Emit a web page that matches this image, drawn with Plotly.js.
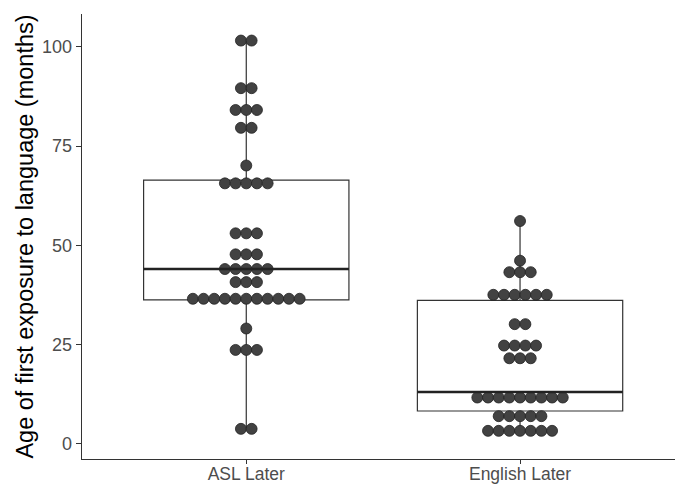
<!DOCTYPE html>
<html>
<head>
<meta charset="utf-8">
<script src="https://cdn.plot.ly/plotly-3.0.1.min.js"></script>
<style>html,body{margin:0;padding:0;background:#fff;overflow:hidden}#chart{width:675px;height:485px}</style>
</head>
<body>
<div id="chart"></div>
<script>
// ---- data ----
const categories = ["ASL Later", "English Later"];
const aslValues = [101.6,101.6, 89.6,89.6, 84.1,84.1,84.1, 79.6,79.6, 70.1,
  65.6,65.6,65.6,65.6,65.6, 53.0,53.0,53.0, 47.7,47.7,47.7, 44.0,44.0,44.0,44.0,44.0,
  40.7,40.7,40.7, 36.5,36.5,36.5,36.5,36.5,36.5,36.5,36.5,36.5,36.5,36.5,
  29.0, 23.6,23.6,23.6, 3.7,3.7];
const englishValues = [56.1, 46.1, 43.2,43.2,43.2, 37.5,37.5,37.5,37.5,37.5,37.5,
  30.1,30.1, 24.7,24.7,24.7,24.7, 21.5,21.5,21.5,
  11.6,11.6,11.6,11.6,11.6,11.6,11.6,11.6,11.6, 6.9,6.9,6.9,6.9,6.9,
  3.2,3.2,3.2,3.2,3.2,3.2,3.2];
// box statistics
const q1 = [36.2, 8.2];
const medians = [44.0, 13.0];
const q3 = [66.4, 36.1];
const lowerWhisker = [3.7, 3.2];
const upperWhisker = [101.6, 56.1];
const yTicks = [0, 25, 50, 75, 100];

// ---- stacking (centered dotplot) ----
const boxWidth = 0.75;
const dotStep = 0.039;
function stack(values, pos) {
  const groups = new Map();
  values.forEach(v => { groups.set(v, (groups.get(v) || 0) + 1); });
  const xs = [], ys = [];
  groups.forEach((n, v) => {
    for (let k = 0; k < n; k++) { xs.push(pos + (k - (n - 1) / 2) * dotStep); ys.push(v); }
  });
  return {xs, ys};
}
const allValues = [aslValues, englishValues];
const traces = [];
allValues.forEach((vals, i) => {
  const s = stack(vals, i + 1);
  traces.push({type: 'scatter', mode: 'markers', x: s.xs, y: s.ys, hoverinfo: 'y',
    marker: {size: 11, color: '#424242', line: {color: '#222222', width: 0.8}}, showlegend: false});
});
traces.push({type: 'box', x: [1, 2], q1: q1, median: medians, q3: q3,
  lowerfence: lowerWhisker, upperfence: upperWhisker, width: boxWidth, whiskerwidth: 0,
  fillcolor: 'rgba(0,0,0,0)', line: {color: '#333333', width: 1.2}, boxpoints: false, showlegend: false});
medians.forEach((m, i) => {
  traces.push({type: 'scatter', mode: 'lines', x: [i + 1 - boxWidth / 2, i + 1 + boxWidth / 2], y: [m, m],
    line: {color: '#222222', width: 2.4}, hoverinfo: 'skip', showlegend: false});
});

const layout = {
  width: 675, height: 485,
  margin: {l: 82, r: 0, t: 14, b: 26, pad: 0},
  paper_bgcolor: '#ffffff', plot_bgcolor: '#ffffff',
  font: {family: 'Liberation Sans, Arial, sans-serif', color: '#4d4d4d'},
  xaxis: {range: [0.4, 2.566], tickvals: [1, 2], ticktext: categories, showgrid: false, zeroline: false,
    showline: true, linecolor: '#333333', linewidth: 1.3, ticks: 'outside', ticklen: 4, tickcolor: '#333333',
    tickwidth: 1, tickfont: {size: 17.5, color: '#4d4d4d'}, ticklabelstandoff: -5, automargin: false, fixedrange: true},
  yaxis: {range: [-3.9, 108.3], tickvals: yTicks, showgrid: false, zeroline: false,
    showline: true, linecolor: '#333333', linewidth: 1.3, ticks: 'outside', ticklen: 5, tickcolor: '#333333',
    tickwidth: 1, tickfont: {size: 18, color: '#4d4d4d'},
    title: {text: 'Age of first exposure to language (months)', font: {size: 23.5, color: '#000000'}, standoff: 1},
    automargin: true, fixedrange: true}
};
Plotly.newPlot('chart', traces, layout, {displayModeBar: false, staticPlot: true});
</script>
</body>
</html>
